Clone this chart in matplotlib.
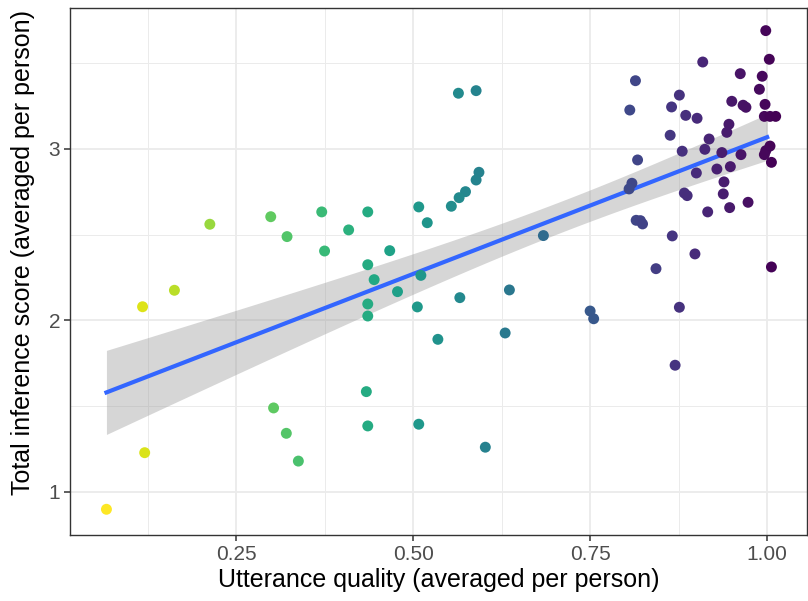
import numpy as np
import matplotlib
matplotlib.use("Agg")
from matplotlib import pyplot as plt
from matplotlib.colors import Normalize

# utterance quality (x) and inference score (y), one value per person
quality = [0.067, 0.118, 0.163, 0.121, 0.213, 0.299, 0.322, 0.371, 0.375, 0.409,
           0.303, 0.321, 0.338, 0.564, 0.589, 0.593, 0.589, 0.574, 0.565, 0.554,
           0.508, 0.520, 0.436, 0.467, 0.436, 0.445, 0.511, 0.478, 0.436, 0.436,
           0.506, 0.566, 0.636, 0.535, 0.630, 0.684, 0.434, 0.436, 0.508, 0.602,
           0.750, 0.755, 0.814, 0.806, 0.817, 0.809, 0.805, 0.815, 0.821, 0.824,
           0.843, 0.870, 0.866, 0.865, 0.863, 0.876, 0.876, 0.998, 1.003, 0.909,
           0.962, 0.993, 0.989, 0.885, 0.901, 0.950, 0.966, 0.970, 0.997, 0.996,
           1.004, 1.012, 0.946, 0.943, 0.918, 0.912, 0.880, 0.936, 0.963, 1.004,
           0.998, 0.996, 1.006, 0.948, 0.929, 0.900, 0.939, 0.938, 0.883, 0.887,
           0.973, 0.947, 0.916, 0.898, 1.006]
score = [0.899, 2.080, 2.176, 1.229, 2.561, 2.605, 2.489, 2.633, 2.405, 2.528,
         1.490, 1.342, 1.180, 3.325, 3.340, 2.864, 2.819, 2.751, 2.716, 2.666,
         2.662, 2.570, 2.633, 2.407, 2.325, 2.238, 2.263, 2.168, 2.096, 2.026,
         2.079, 2.133, 2.178, 1.890, 1.927, 2.495, 1.585, 1.385, 1.395, 1.261,
         2.055, 2.010, 3.398, 3.227, 2.936, 2.800, 2.767, 2.584, 2.582, 2.563,
         2.302, 1.739, 2.493, 3.245, 3.080, 3.314, 2.077, 3.690, 3.523, 3.507,
         3.439, 3.424, 3.348, 3.196, 3.179, 3.278, 3.255, 3.243, 3.260, 3.190,
         3.190, 3.190, 3.144, 3.097, 3.058, 2.998, 2.987, 2.979, 2.967, 3.017,
         2.990, 2.967, 2.922, 2.897, 2.883, 2.860, 2.808, 2.738, 2.743, 2.728,
         2.689, 2.658, 2.633, 2.388, 2.312]

x_ticks = [0.25, 0.50, 0.75, 1.00]
x_tick_labels = ['0.25', '0.50', '0.75', '1.00']
y_ticks = [1, 2, 3]

plt.rcParams['font.family'] = ['Liberation Sans', 'DejaVu Sans']

x = np.array(quality)
y = np.array(score)

# linear fit + 95% confidence band (like geom_smooth(method="lm"))
n = len(x)
slope, intercept = np.polyfit(x, y, 1)
resid = y - (slope * x + intercept)
s = np.sqrt(np.sum(resid ** 2) / (n - 2))
# points past 1.0 are only jitter, the quality score itself tops out at 1
xs = np.linspace(x.min(), x.clip(max=1.0).max(), 80)
ys = slope * xs + intercept
se = s * np.sqrt(1 / n + (xs - x.mean()) ** 2 / np.sum((x - x.mean()) ** 2))
t = 1.986

fig = plt.figure(figsize=(8.08, 6.01), dpi=100)
ax = fig.add_axes([0.0866, 0.1098, 0.9124, 0.8769])

ax.fill_between(xs, ys - t * se, ys + t * se, color='#999999', alpha=0.4,
                linewidth=0, zorder=2)
ax.plot(xs, ys, color='#3366FF', linewidth=3, zorder=3)
ax.scatter(x, y, c=x, cmap='viridis_r', norm=Normalize(x.min(), x.max()),
           s=62, linewidths=0, zorder=4)

ax.set_xlim(0.0155, 1.0565)
ax.set_ylim(0.749, 3.822)
ax.set_xticks(x_ticks)
ax.set_xticklabels(x_tick_labels)
ax.set_yticks(y_ticks)
ax.set_xticks([0.125, 0.375, 0.625, 0.875], minor=True)
ax.set_yticks([1.5, 2.5, 3.5], minor=True)

ax.grid(True, which='major', color='#EBEBEB', linewidth=1.3, zorder=0)
ax.grid(True, which='minor', color='#EBEBEB', linewidth=0.7, zorder=0)
ax.set_axisbelow(True)
for sp in ax.spines.values():
    sp.set_color('#333333')
    sp.set_linewidth(1.0)

ax.tick_params(which='major', length=4, width=1.1, color='#333333',
               labelsize=15, labelcolor='#4D4D4D', pad=3)
ax.tick_params(which='minor', length=0)

ax.set_xlabel('Utterance quality (averaged per person)', fontsize=18, labelpad=3)
ax.set_ylabel('Total inference score (averaged per person)', fontsize=18)
ax.yaxis.set_label_coords(-0.048, 0.537)

fig.savefig('out.png', dpi=100)
